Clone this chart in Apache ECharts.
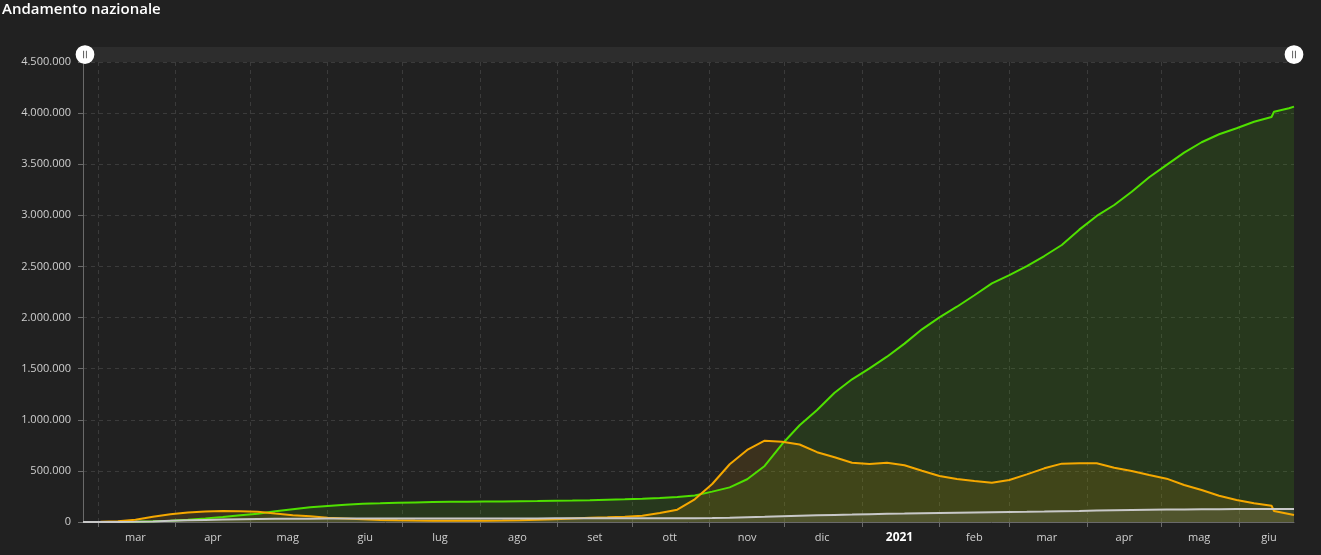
<!DOCTYPE html>
<html>
<head>
<meta charset="UTF-8">
<title>Andamento nazionale</title>
<script src="https://cdn.jsdelivr.net/npm/echarts@6/dist/echarts.min.js"></script>
<style>
    html, body { margin: 0; padding: 0; background: #212121; }
    #chart { width: 1321px; height: 555px; }
</style>
</head>
<body>
<div id="chart"></div>
<script type="text/javascript">
    // weekly readings (Mondays) + the Campania recount step in June 2021
    var dates = ['2020-02-24', '2020-03-02', '2020-03-09', '2020-03-16', '2020-03-23', '2020-03-30',
        '2020-04-06', '2020-04-13', '2020-04-20', '2020-04-27', '2020-05-04', '2020-05-11', '2020-05-18', '2020-05-25',
        '2020-06-01', '2020-06-08', '2020-06-15', '2020-06-22', '2020-06-29', '2020-07-06', '2020-07-13', '2020-07-20', '2020-07-27',
        '2020-08-03', '2020-08-10', '2020-08-17', '2020-08-24', '2020-08-31', '2020-09-07', '2020-09-14', '2020-09-21', '2020-09-28',
        '2020-10-05', '2020-10-12', '2020-10-19', '2020-10-26', '2020-11-02', '2020-11-09', '2020-11-16', '2020-11-23', '2020-11-30',
        '2020-12-07', '2020-12-14', '2020-12-21', '2020-12-28',
        '2021-01-04', '2021-01-11', '2021-01-18', '2021-01-25', '2021-02-01', '2021-02-08', '2021-02-15', '2021-02-22',
        '2021-03-01', '2021-03-08', '2021-03-15', '2021-03-22', '2021-03-29', '2021-04-05', '2021-04-12', '2021-04-19', '2021-04-26',
        '2021-05-03', '2021-05-10', '2021-05-17', '2021-05-24', '2021-05-31', '2021-06-07', '2021-06-14', '2021-06-15', '2021-06-21', '2021-06-23'];

    var guariti = [1, 149, 724, 2749, 7432, 13030,
        22837, 35435, 48877, 66624, 81654, 105186, 125176, 144658,
        157507, 168646, 178526, 183426, 189196, 191944, 194928, 196949, 198593,
        200229, 201642, 203326, 204960, 207653, 210015, 213191, 217716, 222241,
        227704, 234099, 244065, 259456, 297000, 339000, 418000, 548000, 763000,
        946000, 1096000, 1265000, 1396000,
        1503000, 1617000, 1745000, 1885000, 2002000, 2106000, 2218000, 2335000,
        2416000, 2504000, 2602000, 2710000, 2860000, 2994000, 3101000, 3231000, 3372000,
        3493000, 3613000, 3715000, 3793000, 3852000, 3916000, 3962000, 4014000, 4047000, 4063000];

    var positivi = [221, 1835, 7985, 23073, 50418, 75528,
        93187, 103616, 108237, 105813, 99980, 82488, 66553, 55300,
        42000, 35000, 25900, 20200, 16500, 14100, 13000, 12400, 12600,
        12500, 13900, 16100, 20800, 27100, 34600, 41900, 45800, 51300,
        62100, 87200, 120000, 222000, 372000, 565000, 705000, 795000, 786000,
        758000, 683000, 633000, 580000,
        567000, 580000, 555000, 502000, 450000, 421000, 401000, 385000,
        411000, 466000, 525000, 571000, 574000, 574000, 531000, 499000, 460000,
        424000, 362000, 313000, 257000, 215000, 183000, 160000, 108000, 78000, 68000];

    var deceduti = [7, 52, 463, 2158, 6077, 11591,
        16523, 20465, 24114, 26977, 29079, 30739, 32007, 32877,
        33475, 33899, 34371, 34657, 34744, 34869, 34967, 35058, 35112,
        35166, 35209, 35400, 35441, 35483, 35553, 35633, 35738, 35851,
        36002, 36205, 36616, 37479, 39412, 42330, 46464, 50453, 55576,
        60606, 65011, 69214, 72370,
        76329, 80326, 82554, 85881, 88838, 91273, 93835, 95992,
        98288, 100479, 103001, 105879, 108541, 111747, 114612, 117243, 119539,
        121433, 123031, 124296, 125225, 126046, 126588, 126976, 127002, 127253, 127322];

    var monthNames = ['gen', 'feb', 'mar', 'apr', 'mag', 'giu', 'lug', 'ago', 'set', 'ott', 'nov', 'dic'];
    var monthTicks = ['2020-03-01', '2020-04-01', '2020-05-01', '2020-06-01', '2020-07-01', '2020-08-01', '2020-09-01',
        '2020-10-01', '2020-11-01', '2020-12-01', '2021-01-01', '2021-02-01', '2021-03-01', '2021-04-01', '2021-05-01', '2021-06-01'];
    // month labels sit in the middle of each month
    var labelDays = ['2020-03-16', '2020-04-16', '2020-05-16', '2020-06-16', '2020-07-16', '2020-08-16', '2020-09-16',
        '2020-10-16', '2020-11-16', '2020-12-16', '2021-01-16', '2021-02-15', '2021-03-16', '2021-04-16', '2021-05-16', '2021-06-13'];

    function ts(s) {
        var p = s.split('-');
        return new Date(+p[0], p[1] - 1, +p[2]).getTime();
    }
    function pairs(values) {
        return values.map(function (v, i) { return [ts(dates[i]), v]; });
    }
    function itNum(v) {
        return String(v).replace(/\B(?=(\d{3})+(?!\d))/g, '.');
    }

    var font = 'Open Sans';
    var chart = echarts.init(document.getElementById('chart'));

    var option = {
        backgroundColor: '#212121',
        animation: false,
        textStyle: { fontFamily: font },
        title: {
            text: 'Andamento nazionale',
            left: 2,
            top: 2,
            padding: 0,
            textStyle: { color: '#ffffff', fontSize: 15, fontWeight: 600, fontFamily: font }
        },
        grid: { left: 83, right: 27, top: 62, bottom: 33, containLabel: false },
        dataZoom: [{
            type: 'slider',
            xAxisIndex: 0,
            start: 0,
            end: 100,
            top: 47,
            height: 15,
            left: 83,
            right: 27,
            backgroundColor: '#2d2d2d',
            borderColor: 'transparent',
            borderRadius: 0,
            fillerColor: 'rgba(0,0,0,0)',
            showDetail: false,
            showDataShadow: false,
            brushSelect: false,
            moveHandleSize: 0,
            moveHandleStyle: { opacity: 0 },
            handleIcon: 'path://M50 0A50 50 0 1 1 50 100A50 50 0 1 1 50 0Z M41 30L41 70L45 70L45 30Z M55 30L55 70L59 70L59 30Z',
            handleSize: '125%',
            handleStyle: { color: '#ffffff', borderWidth: 0 },
            emphasis: { handleStyle: { color: '#ffffff', borderWidth: 0 }, moveHandleStyle: { opacity: 0 } },
            dataBackground: { lineStyle: { opacity: 0 }, areaStyle: { opacity: 0 } },
            selectedDataBackground: { lineStyle: { opacity: 0 }, areaStyle: { opacity: 0 } }
        }],
        xAxis: {
            type: 'value',
            min: ts(dates[0]),
            max: ts(dates[dates.length - 1]),
            axisLine: { lineStyle: { color: '#6a6a6a' } },
            axisTick: {
                show: true,
                length: 5,
                customValues: monthTicks.map(ts),
                lineStyle: { color: '#6a6a6a' }
            },
            axisLabel: {
                customValues: labelDays.map(ts),
                color: '#cfcfcf',
                fontSize: 11,
                margin: 10,
                formatter: function (v) {
                    var d = new Date(v);
                    if (d.getMonth() === 0) return '{y|' + d.getFullYear() + '}';
                    return monthNames[d.getMonth()];
                },
                rich: { y: { fontWeight: 'bold', color: '#ffffff', fontSize: 12 } }
            },
            splitLine: {
                show: true,
                lineStyle: { color: '#3b3b3b', type: [4, 4] }
            }
        },
        yAxis: {
            type: 'value',
            min: 0,
            max: 4500000,
            interval: 500000,
            axisLine: { show: true, lineStyle: { color: '#6a6a6a' } },
            axisTick: { show: true, length: 5, lineStyle: { color: '#6a6a6a' } },
            axisLabel: { color: '#cfcfcf', fontSize: 11, margin: 12, formatter: itNum },
            splitLine: { show: true, lineStyle: { color: '#3b3b3b', type: [4, 4] } }
        },
        series: [{
            name: 'Dimessi guariti',
            type: 'line',
            data: pairs(guariti),
            showSymbol: false,
            lineStyle: { color: '#4fe000', width: 2 },
            itemStyle: { color: '#4fe000' },
            areaStyle: { color: '#4fe000', opacity: 0.12 }
        }, {
            name: 'Totale positivi',
            type: 'line',
            data: pairs(positivi),
            showSymbol: false,
            lineStyle: { color: '#f5a800', width: 2 },
            itemStyle: { color: '#f5a800' },
            areaStyle: { color: '#f5a800', opacity: 0.12 }
        }, {
            name: 'Deceduti',
            type: 'line',
            data: pairs(deceduti),
            showSymbol: false,
            lineStyle: { color: '#c8c8c8', width: 2 },
            itemStyle: { color: '#c8c8c8' },
            areaStyle: { color: '#c8c8c8', opacity: 0.12 }
        }]
    };
    chart.setOption(option);
</script>
</body>
</html>
